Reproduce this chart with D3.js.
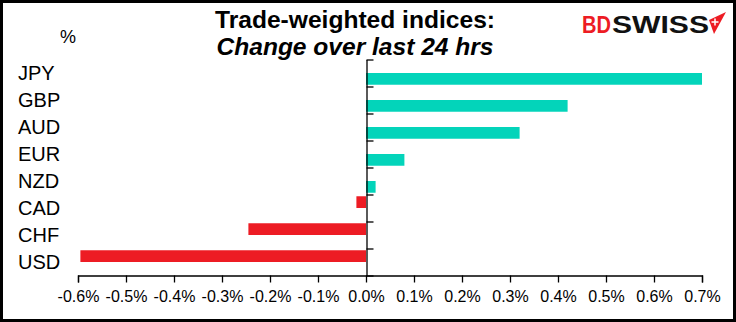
<!DOCTYPE html>
<html>
<head>
<meta charset="utf-8">
<script src="https://cdn.jsdelivr.net/npm/d3@7"></script>
<style>
  html, body { margin: 0; padding: 0; background: #fff; }
  svg { display: block; }
  text { font-family: "Liberation Sans", Arial, sans-serif; fill: #000; }
</style>
</head>
<body>
<svg id="chart" width="736" height="322"></svg>
<script>
// Trade-weighted index change over the last 24 hours, in percent
const currencies = ["JPY", "GBP", "AUD", "EUR", "NZD", "CAD", "CHF", "USD"];
const changes    = [0.70, 0.42, 0.32, 0.08, 0.02, -0.02, -0.245, -0.595];
const xTicks     = [-0.6, -0.5, -0.4, -0.3, -0.2, -0.1, 0.0, 0.1, 0.2, 0.3, 0.4, 0.5, 0.6, 0.7];
const titleLines = ["Trade-weighted indices:", "Change over last 24 hrs"];

const colors = { up: "#03D4BA", down: "#ED1C24" };

const svg = d3.select("#chart");
const W = 736, H = 322;

// frame
svg.append("rect")
  .attr("x", 1.5).attr("y", 1.5)
  .attr("width", W - 3).attr("height", H - 3)
  .attr("fill", "#fff").attr("stroke", "#000").attr("stroke-width", 3);

const x = d3.scaleLinear().domain([-0.6, 0.7]).range([78, 702]);
const y = d3.scaleBand().domain(currencies).range([59.5, 275.5]).paddingInner(0).paddingOuter(0);
// falling and rising values sit in separate slots of each category row
const slot = d3.scaleBand().domain(["down", "up"]).range([0, y.bandwidth()]).paddingInner(0).paddingOuter(0.15);

const rows = currencies.map((c, i) => ({ c, v: changes[i], dir: changes[i] < 0 ? "down" : "up" }));

// bars
svg.append("g").selectAll("rect")
  .data(rows)
  .join("rect")
  .attr("x", d => x(Math.min(0, d.v)))
  .attr("width", d => Math.abs(x(d.v) - x(0)))
  .attr("y", d => y(d.c) + slot(d.dir))
  .attr("height", slot.bandwidth())
  .attr("fill", d => colors[d.dir]);

// x axis
const xAxis = svg.append("g")
  .attr("transform", `translate(0,${y.range()[1]})`)
  .call(d3.axisBottom(x).tickValues(xTicks).tickSize(7).tickPadding(8)
    .tickFormat(d => d.toFixed(1) + "%"));
xAxis.select(".domain").attr("stroke", "#000").attr("stroke-width", 1.3);
xAxis.selectAll(".tick line").attr("stroke", "#000").attr("stroke-width", 1.3);
xAxis.selectAll(".tick text")
  .attr("font-size", 16)
  .attr("font-family", "'Liberation Sans', Arial, sans-serif")
  .attr("fill", "#000");

// y axis at zero with ticks between categories
const yEdges = d3.scaleLinear().domain([0, currencies.length]).range(y.range());
const yAxis = svg.append("g")
  .attr("transform", `translate(${Math.round(x(0)) + 0.5},0)`)
  .call(d3.axisRight(yEdges).tickValues(d3.range(0, currencies.length + 1)).tickSize(7).tickSizeOuter(0).tickFormat(""));
yAxis.select(".domain").attr("stroke", "#000").attr("stroke-width", 1.3);
yAxis.selectAll(".tick line").attr("stroke", "#000").attr("stroke-width", 1.3);

// category labels
svg.append("g").selectAll("text")
  .data(currencies)
  .join("text")
  .attr("x", 18)
  .attr("y", d => y(d) + y.bandwidth() / 2)
  .attr("dy", "0.36em")
  .attr("font-size", 20)
  .text(d => d);

// unit
svg.append("text")
  .attr("x", 60).attr("y", 43)
  .attr("font-size", 18)
  .text("%");

// title
svg.append("text")
  .attr("x", 355).attr("y", 28)
  .attr("text-anchor", "middle")
  .attr("font-size", 24).attr("font-weight", "bold")
  .attr("textLength", 280).attr("lengthAdjust", "spacingAndGlyphs")
  .text(titleLines[0]);
svg.append("text")
  .attr("x", 355).attr("y", 55)
  .attr("text-anchor", "middle")
  .attr("font-size", 24).attr("font-weight", "bold").attr("font-style", "italic")
  .attr("textLength", 277).attr("lengthAdjust", "spacingAndGlyphs")
  .text(titleLines[1]);

// brand mark
const logo = svg.append("g");
logo.append("text")
  .attr("x", 582).attr("y", 33)
  .attr("font-size", 23).attr("font-weight", "bold")
  .attr("textLength", 29).attr("lengthAdjust", "spacingAndGlyphs")
  .style("fill", "#ED1C24")
  .text("BD");
logo.append("text")
  .attr("x", 612).attr("y", 33)
  .attr("font-size", 23).attr("font-weight", "bold")
  .attr("textLength", 97).attr("lengthAdjust", "spacingAndGlyphs")
  .style("fill", "#111")
  .text("SWISS");
logo.append("path")
  .attr("d", "M709,20 L726,12 L714,34 Z")
  .attr("fill", "#ED1C24");
logo.append("path")
  .attr("d", "M715,18.5 v7 M711.5,22 h7")
  .attr("stroke", "#fff").attr("stroke-width", 1.5);
</script>
</body>
</html>
